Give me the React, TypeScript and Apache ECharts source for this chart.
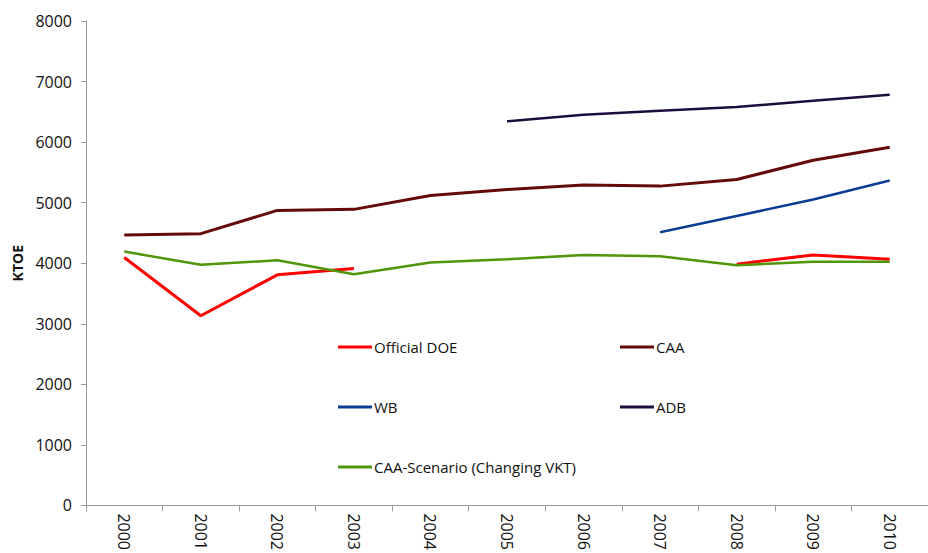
import React, { useEffect, useRef } from "react";
import * as echarts from "echarts";

const years = ["2000", "2001", "2002", "2003", "2004", "2005", "2006", "2007", "2008", "2009", "2010"];
const officialDOE = [4094, 3133, 3808, 3912, null, null, null, null, 3984, 4137, 4066];
const caa = [4466, 4488, 4872, 4889, 5119, 5218, 5290, 5273, 5383, 5700, 5915];
const wb = [null, null, null, null, null, null, null, 4510, 4779, 5053, 5366];
const adb = [null, null, null, null, null, 6343, 6453, 6519, 6579, 6683, 6782];
const caaScenario = [4192, 3973, 4049, 3819, 4011, 4066, 4137, 4115, 3967, 4022, 4022];

const FONT = "Open Sans";

export default function App() {
  const ref = useRef<HTMLDivElement>(null);
  useEffect(() => {
    if (!ref.current) return;
    const chart = echarts.init(ref.current, null, { renderer: "svg" });
    const mk = (name: string, data: (number | null)[], color: string, width: number) => ({
      name,
      type: "line",
      data,
      symbol: "none",
      showSymbol: false,
      connectNulls: false,
      lineStyle: { color, width },
      itemStyle: { color },
    });
    const legendText = { fontFamily: FONT, fontSize: 15, color: "#111", lineHeight: 16, padding: [0, 0, 0, -3] };
    chart.setOption({
      animation: false,
      backgroundColor: "#ffffff",
      grid: { left: 86, top: 21, bottom: 46, right: -12, containLabel: false },
      legend: [
        {
          data: ["Official DOE", "WB", "CAA-Scenario (Changing VKT)"],
          orient: "vertical",
          left: 333,
          top: 334,
          itemWidth: 34,
          itemHeight: 3,
          itemGap: 44,
          icon: "rect",
          textStyle: legendText,
        },
        {
          data: ["CAA", "ADB"],
          orient: "vertical",
          left: 615,
          top: 334,
          itemWidth: 34,
          itemHeight: 3,
          itemGap: 44,
          icon: "rect",
          textStyle: legendText,
        },
      ],
      xAxis: {
        type: "category",
        data: years,
        boundaryGap: true,
        axisLine: { lineStyle: { color: "#999", width: 1 } },
        axisTick: { show: true, interval: 0, length: 6, lineStyle: { color: "#999" } },
        axisLabel: {
          interval: 0,
          rotate: -90,
          margin: 8,
          fontFamily: FONT,
          fontSize: 16,
          color: "#111",
        },
        splitLine: { show: false },
      },
      yAxis: {
        type: "value",
        min: 0,
        max: 8000,
        interval: 1000,
        name: "KTOE",
        nameLocation: "middle",
        nameGap: 61,
        nameRotate: 90,
        nameTextStyle: { fontFamily: FONT, fontSize: 14, fontWeight: "bold", color: "#111" },
        axisLine: { show: true, lineStyle: { color: "#999", width: 1 } },
        axisTick: { show: true, length: 5, lineStyle: { color: "#999" } },
        axisLabel: {
          margin: 14,
          fontFamily: FONT,
          fontSize: 16,
          color: "#111",
          formatter: (v: number) => String(v),
        },
        splitLine: { show: false },
      },
      series: [
        mk("Official DOE", officialDOE, "#ff0000", 3),
        mk("CAA", caa, "#650a0a", 3),
        mk("WB", wb, "#0b3c94", 2.5),
        mk("ADB", adb, "#1d0d3d", 2.5),
        mk("CAA-Scenario (Changing VKT)", caaScenario, "#4f9608", 2.5),
      ],
    });
    return () => chart.dispose();
  }, []);
  return <div ref={ref} style={{ width: 928, height: 553, position: "absolute", left: 0, top: 0 }} />;
}
